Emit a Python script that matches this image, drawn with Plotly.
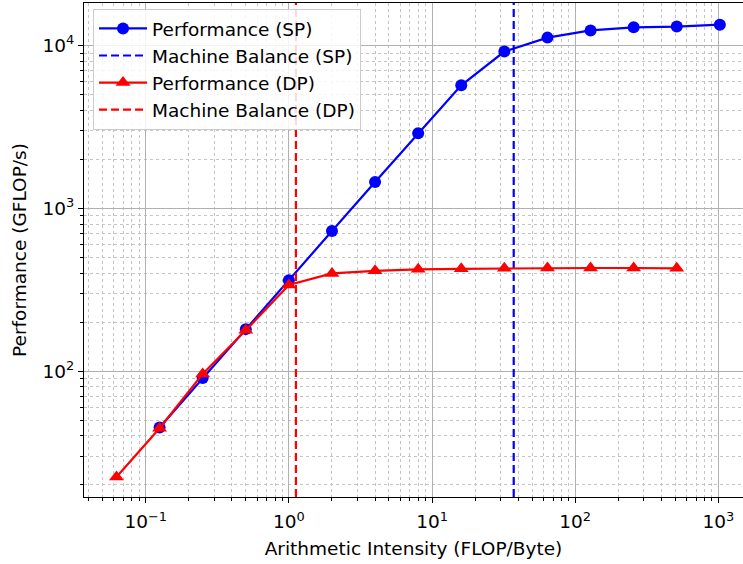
import numpy as np
import plotly.graph_objects as go

# Data
ai_sp = [0.125, 0.25, 0.5, 1, 2, 4, 8, 16, 32, 64, 128, 256, 512, 1024]
perf_sp = [45, 90.5, 181, 361, 725, 1450, 2890, 5700, 9200, 11200, 12400, 12950, 13100, 13450]
ai_dp = [0.0625, 0.125, 0.25, 0.5, 1, 2, 4, 8, 16, 32, 64, 128, 256, 512]
perf_dp = [22.3, 44.5, 96, 178, 338, 398, 413, 422, 425, 428, 430, 430, 430, 428]
mb_sp = 37.2
mb_dp = 1.12

x_range_log = [-1.431, 3.172]
y_range_log = [1.226, 4.262]

x_tickvals = [0.1, 1, 10, 100, 1000]
x_ticktext = ["10<sup>\u22121</sup>", "10<sup>0</sup>", "10<sup>1</sup>", "10<sup>2</sup>", "10<sup>3</sup>"]
y_tickvals = [100, 1000, 10000]
y_ticktext = ["10<sup>2</sup>", "10<sup>3</sup>", "10<sup>4</sup>"]

x_minor = [k * 10.0 ** n for n in range(-2, 4) for k in range(2, 10)]
y_minor = [k * 10.0 ** n for n in range(1, 5) for k in range(2, 10)]

y_span = [10 ** y_range_log[0], 10 ** y_range_log[1]]

FONT = "DejaVu Sans"
FS = 18.5
BLUE = "#0000ff"
RED = "#ff0000"

fig = go.Figure()
fig.add_trace(go.Scatter(x=ai_sp, y=perf_sp, mode="lines+markers", name="Performance (SP)",
                         line=dict(color=BLUE, width=2.2), marker=dict(symbol="circle", size=12, color=BLUE)))
fig.add_trace(go.Scatter(x=[mb_sp, mb_sp], y=y_span, mode="lines", name="Machine Balance (SP)",
                         line=dict(color=BLUE, width=2.2, dash="8px,4px")))
fig.add_trace(go.Scatter(x=ai_dp, y=perf_dp, mode="lines+markers", name="Performance (DP)",
                         line=dict(color=RED, width=2.2), marker=dict(symbol="triangle-up", size=13, color=RED)))
fig.add_trace(go.Scatter(x=[mb_dp, mb_dp], y=y_span, mode="lines", name="Machine Balance (DP)",
                         line=dict(color=RED, width=2.2, dash="8px,4px")))

axis_common = dict(
    showline=True, linecolor="black", linewidth=1.2,
    ticks="outside", ticklen=5, tickwidth=1, tickcolor="black",
    showgrid=True, gridcolor="#b0b0b0", gridwidth=1,
    zeroline=False, automargin=False,
    tickfont=dict(family=FONT, size=FS, color="black"),
)

fig.update_xaxes(type="log", range=x_range_log, tickvals=x_tickvals, ticktext=x_ticktext,
                 mirror=True, ticklabelstandoff=3,
                 minor=dict(tickvals=x_minor, ticks="outside", ticklen=3, tickcolor="black",
                            showgrid=True, gridcolor="#c4c4c4", griddash="dot", gridwidth=1),
                 title=dict(text="Arithmetic Intensity (FLOP/Byte)", font=dict(family=FONT, size=FS, color="black"),
                            standoff=10),
                 **axis_common)
fig.update_yaxes(type="log", range=y_range_log, tickvals=y_tickvals, ticktext=y_ticktext,
                 minor=dict(tickvals=y_minor, ticks="outside", ticklen=3, tickcolor="black",
                            showgrid=True, gridcolor="#c4c4c4", griddash="dot", gridwidth=1),
                 title=dict(text="Performance (GFLOP/s)", font=dict(family=FONT, size=FS, color="black"),
                            standoff=10),
                 **axis_common)

fig.update_layout(
    width=743, height=564,
    margin=dict(l=84, r=0, t=3, b=67),
    plot_bgcolor="white", paper_bgcolor="white",
    font=dict(family=FONT, size=FS, color="black"),
    legend=dict(x=0.0137, y=0.988, xanchor="left", yanchor="top",
                bgcolor="rgba(255,255,255,0.85)", bordercolor="#cccccc", borderwidth=1,
                itemwidth=48,
                font=dict(family=FONT, size=FS, color="black"), tracegroupgap=0),
    showlegend=True,
)

fig.write_html("out.html", post_script="document.body.style.margin='0px';",
               config={"displayModeBar": False})
